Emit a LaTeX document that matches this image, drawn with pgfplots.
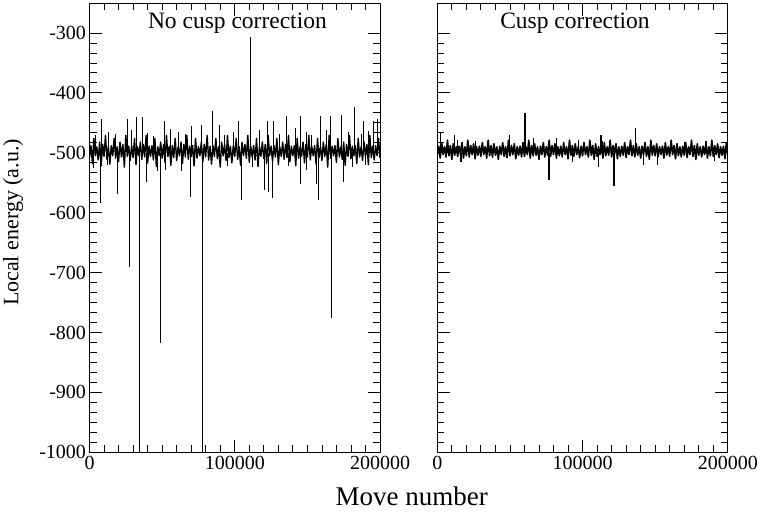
\documentclass[border=0pt]{standalone}
\usepackage{fontspec}
\setmainfont{Liberation Serif}
\usepackage{pgfplots}
\pgfplotsset{compat=1.18}
\pgfplotsset{
  panel/.style={
    scale only axis, width=290.5pt, height=449.3pt,
    xmin=0, xmax=200000, ymin=-1000, ymax=-250,
    xtick={0,100000,200000}, ytick={-1000,-900,...,-300},
    minor x tick num=9, minor y tick num=5,
    tick align=inside, major tick length=12.5pt, minor tick length=7pt,
    scaled x ticks=false,
    xticklabel style={/pgf/number format/.cd, fixed, 1000 sep={}, assume math mode=true},
    yticklabel style={/pgf/number format/.cd, fixed, 1000 sep={}, assume math mode=true},
    tick label style={font=\fontsize{20}{20}\selectfont},
    axis line style={line width=0.8pt},
    every tick/.append style={black, line width=0.8pt},
    unbounded coords=jump,
  }
}
\begin{document}
\begin{tikzpicture}[x=1pt,y=1pt]
\path[use as bounding box] (0,0) rectangle (763,515);
\begin{axis}[panel, at={(89.5pt,62.7pt)}, anchor=south west]
% spikes
\addplot[black, line width=0.8pt] coordinates {
(7900,-500)(7900,-444)(7900,nan) (26300,-500)(26300,-444)(26300,nan) (32500,-500)(32500,-441)(32500,nan)
(36400,-500)(36400,-441)(36400,nan) (51800,-500)(51800,-447)(51800,nan) (70100,-500)(70100,-456)(70100,nan)
(77000,-500)(77000,-453)(77000,nan) (84800,-500)(84800,-430)(84800,nan) (89400,-500)(89400,-453)(89400,nan)
(102700,-500)(102700,-447)(102700,nan) (111000,-500)(111000,-307)(111000,nan) (122400,-500)(122400,-447)(122400,nan)
(126600,-500)(126600,-447)(126600,nan) (135800,-500)(135800,-439)(135800,nan) (145400,-500)(145400,-439)(145400,nan)
(158700,-500)(158700,-439)(158700,nan) (165600,-500)(165600,-439)(165600,nan) (173400,-500)(173400,-437)(173400,nan)
(182600,-500)(182600,-424)(182600,nan) (188500,-500)(188500,-447)(188500,nan) (195400,-500)(195400,-447)(195400,nan)
(198400,-500)(198400,-444)(198400,nan)
(4000,-500)(4000,-470)(4000,nan) (13000,-500)(13000,-465)(13000,nan) (18000,-500)(18000,-468)(18000,nan)
(29000,-500)(29000,-462)(29000,nan) (40000,-500)(40000,-467)(40000,nan) (44000,-500)(44000,-472)(44000,nan)
(56000,-500)(56000,-460)(56000,nan) (61000,-500)(61000,-465)(61000,nan) (66000,-500)(66000,-468)(66000,nan)
(93000,-500)(93000,-470)(93000,nan) (99000,-500)(99000,-466)(99000,nan) (117000,-500)(117000,-462)(117000,nan)
(131000,-500)(131000,-468)(131000,nan) (142000,-500)(142000,-458)(142000,nan) (149000,-500)(149000,-465)(149000,nan)
(153000,-500)(153000,-470)(153000,nan) (163000,-500)(163000,-462)(163000,nan) (178000,-500)(178000,-466)(178000,nan)
(187000,-500)(187000,-468)(187000,nan) (192000,-500)(192000,-463)(192000,nan)
(7200,-500)(7200,-584)(7200,nan) (19400,-500)(19400,-568)(19400,nan) (27700,-500)(27700,-691)(27700,nan)
(34300,-500)(34300,-1005)(34300,nan) (39100,-500)(39100,-548)(39100,nan) (49000,-500)(49000,-818)(49000,nan)
(69700,-500)(69700,-573)(69700,nan) (77700,-500)(77700,-1005)(77700,nan) (104300,-500)(104300,-579)(104300,nan)
(120600,-500)(120600,-562)(120600,nan) (123400,-500)(123400,-565)(123400,nan) (126100,-500)(126100,-576)(126100,nan)
(145000,-500)(145000,-552)(145000,nan) (156000,-500)(156000,-552)(156000,nan) (157600,-500)(157600,-579)(157600,nan)
(166300,-500)(166300,-775)(166300,nan) (174700,-500)(174700,-548)(174700,nan)
(3000,-500)(3000,-525)(3000,nan) (12000,-500)(12000,-520)(12000,nan) (47000,-500)(47000,-530)(47000,nan)
(52500,-500)(52500,-528)(52500,nan) (63000,-500)(63000,-530)(63000,nan) (95000,-500)(95000,-522)(95000,nan)
(112000,-500)(112000,-524)(112000,nan) (137000,-500)(137000,-522)(137000,nan) (149500,-500)(149500,-528)(149500,nan)
(181000,-500)(181000,-524)(181000,nan) (190000,-500)(190000,-520)(190000,nan)
};
% dense band
\addplot[black, line width=1.4pt, line join=round] coordinates {
(0,-507)(1000,-488)(2000,-518)(3000,-476)(4000,-505)(5000,-490)(6000,-512)(7000,-482)(8000,-522)(9000,-486)
(10000,-506)(11000,-471)(12000,-511)(13000,-489)(14000,-519)(15000,-488)(16000,-505)(17000,-476)(18000,-509)(19000,-490)
(20000,-515)(21000,-482)(22000,-507)(23000,-486)(24000,-524)(25000,-471)(26000,-506)(27000,-489)(28000,-513)(29000,-488)
(30000,-508)(31000,-476)(32000,-520)(33000,-490)(34000,-505)(35000,-482)(36000,-511)(37000,-486)(38000,-507)(39000,-471)
(40000,-517)(41000,-489)(42000,-506)(43000,-488)(44000,-512)(45000,-476)(46000,-523)(47000,-490)(48000,-505)(49000,-482)
(50000,-509)(51000,-486)(52000,-516)(53000,-471)(54000,-506)(55000,-489)(56000,-521)(57000,-488)(58000,-508)(59000,-476)
(60000,-513)(61000,-490)(62000,-505)(63000,-482)(64000,-518)(65000,-486)(66000,-507)(67000,-471)(68000,-511)(69000,-489)
(70000,-506)(71000,-488)(72000,-522)(73000,-476)(74000,-509)(75000,-490)(76000,-505)(77000,-482)(78000,-515)(79000,-486)
(80000,-507)(81000,-471)(82000,-512)(83000,-489)(84000,-519)(85000,-488)(86000,-506)(87000,-476)(88000,-510)(89000,-490)
(90000,-524)(91000,-482)(92000,-505)(93000,-486)(94000,-513)(95000,-471)(96000,-508)(97000,-489)(98000,-517)(99000,-488)
(100000,-506)(101000,-476)(102000,-511)(103000,-490)(104000,-521)(105000,-482)(106000,-505)(107000,-486)(108000,-509)(109000,-471)
(110000,-516)(111000,-489)(112000,-507)(113000,-488)(114000,-512)(115000,-476)(116000,-523)(117000,-490)(118000,-506)(119000,-482)
(120000,-510)(121000,-486)(122000,-518)(123000,-471)(124000,-505)(125000,-489)(126000,-514)(127000,-488)(128000,-507)(129000,-476)
(130000,-520)(131000,-490)(132000,-506)(133000,-482)(134000,-511)(135000,-486)(136000,-508)(137000,-471)(138000,-515)(139000,-489)
(140000,-505)(141000,-488)(142000,-522)(143000,-476)(144000,-509)(145000,-490)(146000,-506)(147000,-482)(148000,-517)(149000,-486)
(150000,-507)(151000,-471)(152000,-512)(153000,-489)(154000,-505)(155000,-488)(156000,-519)(157000,-476)(158000,-508)(159000,-490)
(160000,-513)(161000,-482)(162000,-506)(163000,-486)(164000,-524)(165000,-471)(166000,-509)(167000,-489)(168000,-505)(169000,-488)
(170000,-516)(171000,-476)(172000,-507)(173000,-490)(174000,-511)(175000,-482)(176000,-521)(177000,-486)(178000,-506)(179000,-471)
(180000,-510)(181000,-489)(182000,-505)(183000,-488)(184000,-518)(185000,-476)(186000,-507)(187000,-490)(188000,-513)(189000,-482)
(190000,-506)(191000,-486)(192000,-520)(193000,-471)(194000,-508)(195000,-489)(196000,-512)(197000,-488)(198000,-505)(199000,-476)
(200000,-509)
};
\end{axis}
\begin{axis}[panel, at={(437.3pt,62.7pt)}, anchor=south west, yticklabels={}]
% spikes
\addplot[black, line width=1.1pt] coordinates {
(2300,-500)(2300,-465)(2300,nan) (11700,-500)(11700,-470)(11700,nan) (14000,-500)(14000,-478)(14000,nan)
(26000,-500)(26000,-480)(26000,nan) (49400,-500)(49400,-471)(49400,nan) (66000,-500)(66000,-475)(66000,nan)
(82000,-500)(82000,-476)(82000,nan) (97000,-500)(97000,-478)(97000,nan) (112700,-500)(112700,-470)(112700,nan)
(114000,-500)(114000,-480)(114000,nan) (136400,-500)(136400,-459)(136400,nan) (170000,-500)(170000,-482)(170000,nan)
(185000,-500)(185000,-481)(185000,nan)
(16300,-500)(16300,-516)(16300,nan) (92800,-500)(92800,-516)(92800,nan) (111100,-500)(111100,-523)(111100,nan)
(141900,-500)(141900,-520)(141900,nan) (151500,-500)(151500,-520)(151500,nan) (190600,-500)(190600,-514)(190600,nan)
};
\addplot[black, line width=1.8pt] coordinates {
(60200,-500)(60200,-434)(60200,nan) (76700,-500)(76700,-545)(76700,nan) (121900,-500)(121900,-555)(121900,nan)
};
% dense band
\addplot[black, line width=1.6pt, line join=round] coordinates {
(0,-504)(1000,-489)(2000,-509)(3000,-483)(4000,-503)(5000,-490)(6000,-507)(7000,-479)(8000,-505)(9000,-488)
(10000,-511)(11000,-485)(12000,-504)(13000,-490)(14000,-506)(15000,-489)(16000,-503)(17000,-483)(18000,-509)(19000,-490)
(20000,-505)(21000,-479)(22000,-507)(23000,-488)(24000,-503)(25000,-485)(26000,-510)(27000,-490)(28000,-504)(29000,-489)
(30000,-506)(31000,-483)(32000,-503)(33000,-490)(34000,-509)(35000,-479)(36000,-505)(37000,-488)(38000,-507)(39000,-485)
(40000,-504)(41000,-490)(42000,-511)(43000,-489)(44000,-503)(45000,-483)(46000,-506)(47000,-490)(48000,-508)(49000,-479)
(50000,-505)(51000,-488)(52000,-503)(53000,-485)(54000,-510)(55000,-490)(56000,-504)(57000,-489)(58000,-507)(59000,-483)
(60000,-506)(61000,-490)(62000,-503)(63000,-479)(64000,-509)(65000,-488)(66000,-505)(67000,-485)(68000,-504)(69000,-490)
(70000,-511)(71000,-489)(72000,-503)(73000,-483)(74000,-507)(75000,-490)(76000,-504)(77000,-479)(78000,-506)(79000,-488)
(80000,-503)(81000,-485)(82000,-509)(83000,-490)(84000,-505)(85000,-489)(86000,-507)(87000,-483)(88000,-503)(89000,-490)
(90000,-510)(91000,-479)(92000,-504)(93000,-488)(94000,-506)(95000,-485)(96000,-503)(97000,-490)(98000,-508)(99000,-489)
(100000,-505)(101000,-483)(102000,-503)(103000,-490)(104000,-507)(105000,-479)(106000,-504)(107000,-488)(108000,-511)(109000,-485)
(110000,-506)(111000,-490)(112000,-503)(113000,-489)(114000,-509)(115000,-483)(116000,-505)(117000,-490)(118000,-504)(119000,-479)
(120000,-507)(121000,-488)(122000,-503)(123000,-485)(124000,-510)(125000,-490)(126000,-506)(127000,-489)(128000,-504)(129000,-483)
(130000,-508)(131000,-490)(132000,-503)(133000,-479)(134000,-505)(135000,-488)(136000,-507)(137000,-485)(138000,-504)(139000,-490)
(140000,-509)(141000,-489)(142000,-503)(143000,-483)(144000,-506)(145000,-490)(146000,-511)(147000,-479)(148000,-504)(149000,-488)
(150000,-505)(151000,-485)(152000,-507)(153000,-490)(154000,-503)(155000,-489)(156000,-509)(157000,-483)(158000,-504)(159000,-490)
(160000,-506)(161000,-479)(162000,-503)(163000,-488)(164000,-510)(165000,-485)(166000,-505)(167000,-490)(168000,-507)(169000,-489)
(170000,-504)(171000,-483)(172000,-508)(173000,-490)(174000,-503)(175000,-479)(176000,-506)(177000,-488)(178000,-511)(179000,-485)
(180000,-504)(181000,-490)(182000,-507)(183000,-489)(184000,-503)(185000,-483)(186000,-509)(187000,-490)(188000,-505)(189000,-479)
(190000,-506)(191000,-488)(192000,-503)(193000,-485)(194000,-508)(195000,-490)(196000,-504)(197000,-489)(198000,-510)(199000,-483)
(200000,-505)
};
\end{axis}
\node[anchor=base, font=\fontsize{23.5}{24}\selectfont] at (237.4,486.7) {No cusp correction};
\node[anchor=base, font=\fontsize{23.5}{24}\selectfont] at (575,486.7) {Cusp correction};
\node[anchor=base, font=\fontsize{27}{28}\selectfont] at (411.7,10) {Move number};
\node[rotate=90, anchor=base, font=\fontsize{22}{22}\selectfont] at (18.3,292.5) {Local energy (a.u.)};
\end{tikzpicture}
\end{document}
